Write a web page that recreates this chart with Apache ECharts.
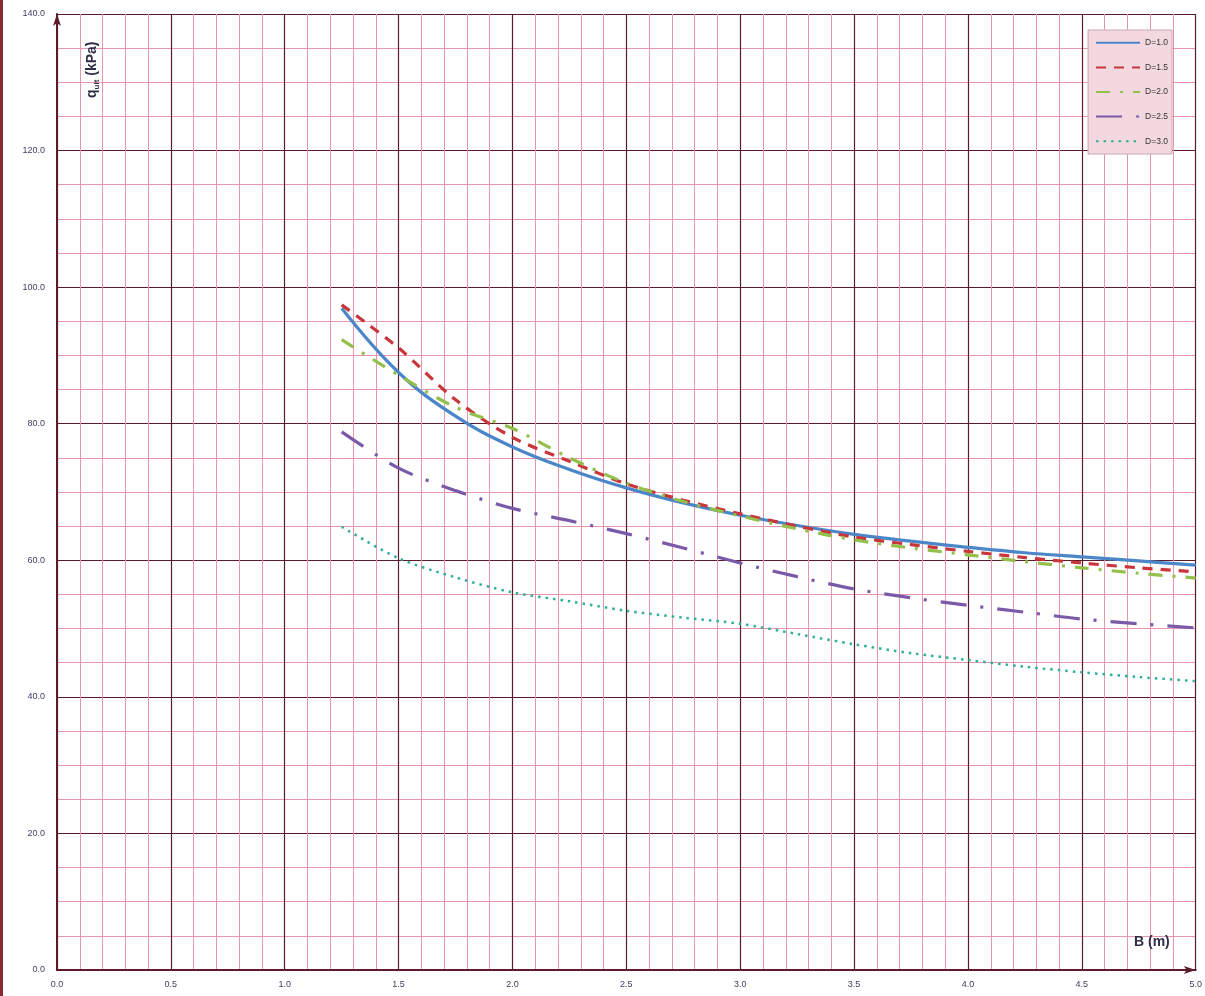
<!DOCTYPE html>
<html><head><meta charset="utf-8">
<script src="https://cdn.jsdelivr.net/npm/echarts@6/dist/echarts.min.js"></script>
<style>html,body{margin:0;padding:0;background:#fff}#c{width:1205px;height:996px}</style>
</head><body><div id="c"></div>
<script>
const B = [1.25,1.5,1.75,2.0,2.25,2.5,2.75,3.0,3.25,3.5,3.75,4.0,4.25,4.5,4.75,5.0];
const D10 = [96.9,87.5,81.1,76.6,73.3,70.6,68.4,66.6,65.1,63.8,62.8,61.9,61.1,60.5,59.9,59.3];
const D15 = [97.4,91.1,83.5,78.0,74.5,71.2,68.8,66.8,65.0,63.4,62.3,61.3,60.4,59.6,58.9,58.3];
const D20 = [92.3,87.1,82.4,79.3,75.0,71.3,68.6,66.5,64.6,63.0,61.8,60.8,59.8,58.9,58.1,57.4];
const D25 = [78.8,73.5,70.2,67.6,65.8,63.9,61.8,59.6,57.6,55.8,54.5,53.4,52.4,51.4,50.7,50.1];
const D30 = [64.9,60.3,57.5,55.3,54.0,52.6,51.6,50.7,49.2,47.7,46.4,45.4,44.4,43.6,42.9,42.3];
const seriesNames = ['D=1.0','D=1.5','D=2.0','D=2.5','D=3.0'];

const pair = arr => B.map((b,i)=>[b,arr[i]]);
const major = '#5c1a2a', minor = '#e896ab';
const chart = echarts.init(document.getElementById('c'));
const mk = (name, data, color, type, width, smooth) => ({
  name, type:'line', data: pair(data), showSymbol:false, symbol:'none', smooth: smooth,
  lineStyle:{color, width, type, cap:'butt'}, itemStyle:{color}, z:5
});
chart.setOption({
  animation:false,
  backgroundColor:'#fff',
  grid:{left:57, right:8, top:14, bottom:26, containLabel:false},
  xAxis:{type:'value', min:0, max:5, interval:0.5,
    axisLine:{show:true, lineStyle:{color:major, width:2}, symbol:['none','arrow'], symbolSize:[6,12], symbolOffset:[0,0]},
    axisTick:{show:false},
    axisLabel:{formatter:v=>v.toFixed(1), fontSize:9, color:'#3c3f62', margin:10, fontFamily:'Liberation Sans'},
    splitLine:{show:true, lineStyle:{color:major, width:1.2}},
    minorTick:{show:false, splitNumber:5},
    minorSplitLine:{show:true, lineStyle:{color:minor, width:1}}
  },
  yAxis:{type:'value', min:0, max:140, interval:20,
    axisLine:{show:true, lineStyle:{color:major, width:2}, symbol:['none','arrow'], symbolSize:[6,12]},
    axisTick:{show:false},
    axisLabel:{formatter:v=>v.toFixed(1), fontSize:9, color:'#3c3f62', margin:12, fontFamily:'Liberation Sans'},
    splitLine:{show:true, lineStyle:{color:major, width:1.2}},
    minorTick:{show:false, splitNumber:4},
    minorSplitLine:{show:true, lineStyle:{color:minor, width:1}}
  },
  legend:{orient:'vertical', right:33, top:30, itemGap:12.5, itemWidth:44, itemHeight:12,
    backgroundColor:'#f3d9df', borderColor:'#c9a6ae', borderWidth:1, padding:[8,4,8,7],
    itemGap:12.5, itemStyle:{opacity:0},
    textStyle:{fontSize:8.5, color:'#333', fontFamily:'Liberation Sans'},
    data:seriesNames},
  series:[
    mk(seriesNames[0], D10, '#4a86c8', 'solid', 3.2, 0.4),
    mk(seriesNames[1], D15, '#c8353a', [10,8], 3.2, 0.3),
    mk(seriesNames[2], D20, '#92c04a', [14,10,3,10], 3.2, 0.3),
    mk(seriesNames[3], D25, '#7a5aa8', [26,14,3,14], 3.2, 0.3),
    mk(seriesNames[4], D30, '#2fae9a', [2.5,5], 2.5, 0.3)
  ],
  graphic:[
    {type:'rect', left:0, top:0, shape:{width:3, height:996}, style:{fill:'#8a2a35'}, z:10},
    {type:'text', x:84, y:98, rotation:Math.PI/2, z:10,
      style:{text:'{a|q}{s|ult}{a| (kPa)}', rich:{a:{fontSize:14, fontWeight:'bold', fill:'#2e2e45', fontFamily:'Liberation Sans'}, s:{fontSize:8, fontWeight:'bold', fill:'#2e2e45', fontFamily:'Liberation Sans', verticalAlign:'bottom', padding:[9,0,0,0]}}}},
    {type:'text', x:1134, y:935, z:10,
      style:{text:'B (m)', fontSize:14, fontWeight:'bold', fill:'#2e2e45', fontFamily:'Liberation Sans'}}
  ]
});
chart.setOption({legend:{itemGap:12.5 + 2.5}});
</script></body></html>
